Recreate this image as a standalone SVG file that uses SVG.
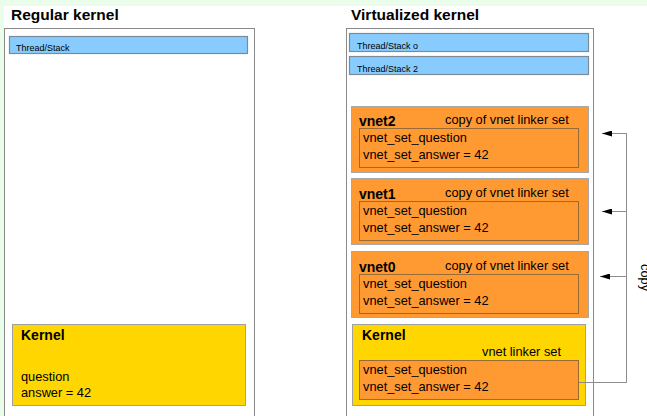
<svg xmlns="http://www.w3.org/2000/svg" width="647" height="416" viewBox="0 0 647 416">
  <defs>
    <style>
      .title { font-family: "Liberation Sans", Arial, sans-serif; font-size: 15.5px; font-weight: bold; fill: #000; }
      .small { font-family: "Liberation Sans", Arial, sans-serif; font-size: 9px; fill: #000; }
      .label { font-family: "Liberation Sans", Arial, sans-serif; font-size: 12.8px; fill: #000; }
      .name { font-family: "Liberation Sans", Arial, sans-serif; font-size: 14px; font-weight: bold; fill: #000; }
      .frame { fill: #ffffff; stroke: #8a8a8a; stroke-width: 1; }
      .thread { fill: #88ccff; stroke: #7a8a99; stroke-width: 1.2; }
      .vnet { fill: #ff9a33; stroke: #a8a8a8; stroke-width: 1; }
      .kernel { fill: #ffd600; stroke: #a0a0a0; stroke-width: 1; }
      .set { fill: none; stroke: #9a6a35; stroke-width: 1; }
      .setfill { fill: #ff9a33; stroke: #9a6a35; stroke-width: 1; }
      .wire { fill: none; stroke: #8c8c8c; stroke-width: 1; }
    </style>
    <marker id="arrow" viewBox="0 0 10 6" refX="10" refY="3" markerWidth="10" markerHeight="6" markerUnits="userSpaceOnUse" orient="auto">
      <path d="M0,0 L10,3 L0,6 Z" fill="#000"/>
    </marker>
  </defs>

  <!-- page background -->
  <rect x="0" y="0" width="647" height="416" fill="#eafdea"/>
  <rect x="4" y="6" width="643" height="410" fill="#ffffff"/>

  <!-- regular kernel column -->
  <g id="regular-kernel">
    <text class="title" x="11" y="20">Regular kernel</text>
    <rect class="frame" x="4.5" y="28.5" width="250" height="400"/>
  </g>
  <g id="regular-thread">
    <rect class="thread" x="9.5" y="36.5" width="238" height="17"/>
    <text class="small" x="16" y="50.5">Thread/Stack</text>
  </g>
  <g id="regular-kernel-data">
    <rect class="kernel" x="12.5" y="324.5" width="233" height="81"/>
    <text class="name" x="21" y="340">Kernel</text>
    <text class="label" x="21" y="381">question</text>
    <text class="label" x="21" y="397">answer = 42</text>
  </g>

  <!-- virtualized kernel column -->
  <g id="virtualized-kernel">
    <text class="title" x="351" y="20">Virtualized kernel</text>
    <rect class="frame" x="346.5" y="28.5" width="247" height="400"/>
  </g>
  <g id="thread-0">
    <rect class="thread" x="349.5" y="33.5" width="239" height="18"/>
    <text class="small" x="357" y="48.5">Thread/Stack o</text>
  </g>
  <g id="thread-2">
    <rect class="thread" x="349.5" y="56.5" width="239" height="18"/>
    <text class="small" x="357" y="71.5">Thread/Stack 2</text>
  </g>

  <g id="vnet2">
    <rect class="vnet" x="351.5" y="106.5" width="237" height="66"/>
    <text class="name" x="359" y="126">vnet2</text>
    <text class="label" x="445" y="124">copy of vnet linker set</text>
    <rect class="set" x="359.5" y="128.5" width="219" height="39"/>
    <text class="label" x="363" y="142">vnet_set_question</text>
    <text class="label" x="363" y="159">vnet_set_answer = 42</text>
  </g>

  <g id="vnet1">
    <rect class="vnet" x="351.5" y="178.5" width="237" height="66"/>
    <text class="name" x="359" y="199">vnet1</text>
    <text class="label" x="445" y="197">copy of vnet linker set</text>
    <rect class="set" x="359.5" y="201.5" width="219" height="39"/>
    <text class="label" x="363" y="215">vnet_set_question</text>
    <text class="label" x="363" y="232">vnet_set_answer = 42</text>
  </g>

  <g id="vnet0">
    <rect class="vnet" x="351.5" y="251.5" width="237" height="66"/>
    <text class="name" x="359" y="272">vnet0</text>
    <text class="label" x="445" y="270">copy of vnet linker set</text>
    <rect class="set" x="359.5" y="274.5" width="219" height="39"/>
    <text class="label" x="363" y="288">vnet_set_question</text>
    <text class="label" x="363" y="305">vnet_set_answer = 42</text>
  </g>

  <g id="kernel">
    <rect class="kernel" x="352.5" y="324.5" width="233" height="81"/>
    <text class="name" x="362" y="340">Kernel</text>
    <text class="label" x="482" y="356">vnet linker set</text>
    <rect class="setfill" x="359.5" y="360.5" width="219" height="39"/>
    <text class="label" x="363" y="374">vnet_set_question</text>
    <text class="label" x="363" y="391">vnet_set_answer = 42</text>
  </g>

  <!-- copy connectors from the kernel linker set to each vnet -->
  <g id="connectors">
    <polyline class="wire" points="579,382.5 626.5,382.5 626.5,133"/>
    <line class="wire" x1="626.5" y1="133.5" x2="602" y2="133.5" marker-end="url(#arrow)"/>
    <line class="wire" x1="626.5" y1="211.5" x2="602" y2="211.5" marker-end="url(#arrow)"/>
    <line class="wire" x1="626.5" y1="276.5" x2="600" y2="276.5" marker-end="url(#arrow)"/>
    <text class="label" transform="translate(641,264) rotate(90)">copy</text>
  </g>
</svg>
